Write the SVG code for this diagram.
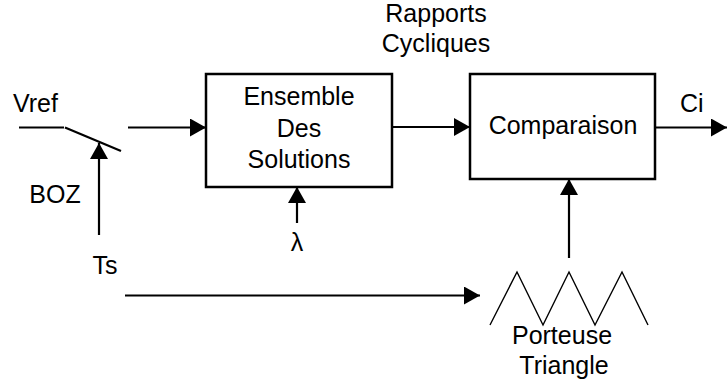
<svg xmlns="http://www.w3.org/2000/svg" width="727" height="387" viewBox="0 0 727 387">
<style>
text{font-family:"Liberation Sans",Arial,sans-serif;font-size:25px;fill:#000}
.c{text-anchor:middle}
.box{fill:#fff;stroke:#000;stroke-width:2.5}
.ln{fill:none;stroke:#000;stroke-width:2.2}
.wave{fill:none;stroke:#000;stroke-width:1.4}
</style>
<defs>
<marker id="ah" markerUnits="userSpaceOnUse" markerWidth="17" markerHeight="18" refX="16" refY="9" orient="auto" viewBox="0 0 17 18">
<path d="M0,0 L16,9 L0,18 z" fill="#000"/>
</marker>
</defs>
<rect width="727" height="387" fill="#fff"/>
<g id="connectors">
<line class="ln" x1="19" y1="127.5" x2="64" y2="127.5"/>
<line class="ln" x1="65" y1="127.5" x2="121" y2="151"/>
<line class="ln" x1="99" y1="235" x2="99" y2="143" marker-end="url(#ah)"/>
<line class="ln" x1="128" y1="127.5" x2="206" y2="127.5" marker-end="url(#ah)"/>
<line class="ln" x1="392" y1="127" x2="470" y2="127" marker-end="url(#ah)"/>
<line class="ln" x1="655" y1="127.5" x2="727" y2="127.5" marker-end="url(#ah)"/>
<line class="ln" x1="297" y1="223" x2="297" y2="187" marker-end="url(#ah)"/>
<line class="ln" x1="125" y1="295.5" x2="480" y2="295.5" marker-end="url(#ah)"/>
<line class="ln" x1="569" y1="258" x2="569" y2="179" marker-end="url(#ah)"/>
</g>
<g id="switch-labels">
<text x="13" y="112">Vref</text>
<text x="55" y="203" class="c">BOZ</text>
<text x="105" y="274" class="c">Ts</text>
</g>
<g id="ensemble">
<rect class="box" x="206" y="74" width="186" height="113"/>
<text x="299" y="105" class="c">Ensemble</text>
<text x="299" y="137" class="c">Des</text>
<text x="299" y="168" class="c">Solutions</text>
</g>
<g id="lambda">
<text x="297" y="251" class="c">λ</text>
</g>
<g id="rapports">
<text x="436" y="22" class="c">Rapports</text>
<text x="436" y="52" class="c">Cycliques</text>
</g>
<g id="comparaison">
<rect class="box" x="470" y="74" width="185" height="105"/>
<text x="563" y="134" class="c">Comparaison</text>
</g>
<g id="ci">
<text x="680" y="112">Ci</text>
</g>
<g id="porteuse">
<polyline class="wave" points="490,325 517,272 543,325 569,272 595,325 622,272 648,325"/>
<text x="562" y="344" class="c">Porteuse</text>
<text x="564" y="374" class="c">Triangle</text>
</g>
</svg>
